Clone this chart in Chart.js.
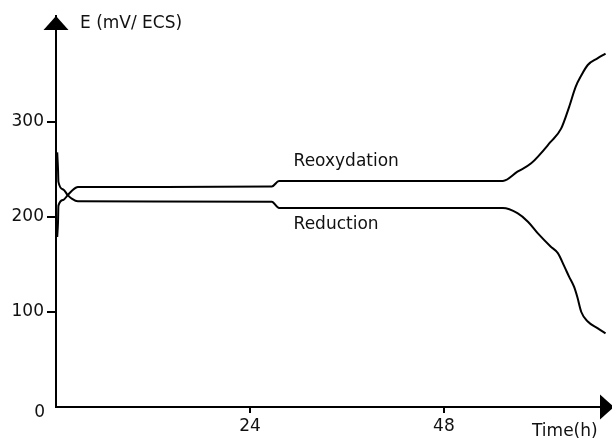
<!DOCTYPE html>
<html>
<head>
<meta charset="utf-8">
<script src="https://cdn.jsdelivr.net/npm/chart.js@4/dist/chart.umd.min.js"></script>
<style>
  html, body { margin: 0; padding: 0; background: #fff; }
  #wrap { width: 612px; height: 440px; }
</style>
</head>
<body>
<div id="wrap"><canvas id="potentialChart" width="612" height="440"></canvas></div>
<script>
// Reoxydation curve (time in h, E in mV/ECS)
const reoxTime = [0.15, 0.25, 0.3, 0.9, 1.45, 2.0, 2.7, 26.7, 27.6, 55.3, 57.1, 58.8, 61.2, 62.5, 63.5, 64.3, 65.0, 65.8, 67.0, 68.0];
const reoxE    = [179, 195, 212, 218, 223, 228, 231.5, 232, 238, 238, 247.7, 256.5, 279, 293, 316, 337, 349, 360, 367, 372];

// Reduction curve
const reducTime = [0.15, 0.25, 0.3, 0.9, 1.45, 2.0, 2.7, 26.7, 27.6, 55.3, 57.1, 58.4, 59.6, 61.2, 62.1, 62.9, 63.5, 64.1, 64.5, 65.0, 65.8, 67.0, 68.0];
const reducE    = [268, 250, 237, 229, 223, 219, 216.5, 216, 209.5, 209.5, 204, 195, 183, 169, 162, 148, 137, 126.6, 116, 100, 90, 83, 77.6];

// axes
const xTicks = [24, 48];
const yTicks = [100, 200, 300];
const originLabel = "0";
const xMax = 68.8;
const yMax = 411.6;
const yTitle = "E (mV/ ECS)";
const xTitle = "Time(h)";
const curveLabels = ["Reoxydation", "Reduction"];
const labelAt = [{ x: 29.4, y: 258 }, { x: 29.4, y: 191.6 }];

const FONT = "17px 'DejaVu Sans'";
const TEXT = "#111";

const toPoints = (xs, ys) => xs.map((x, i) => ({ x, y: ys[i] }));

// arrows, origin label, titles and curve names
const decorations = {
  id: "decorations",
  afterDraw(chart) {
    const { ctx, chartArea, scales } = chart;
    const ox = chartArea.left, oy = chartArea.bottom;
    ctx.save();
    ctx.fillStyle = "#000";
    // y arrow
    ctx.beginPath();
    ctx.moveTo(ox, chartArea.top);
    ctx.lineTo(ox - 12.5, chartArea.top + 14);
    ctx.lineTo(ox + 12.5, chartArea.top + 14);
    ctx.closePath();
    ctx.fill();
    // x arrow
    ctx.beginPath();
    ctx.moveTo(614, oy);
    ctx.lineTo(600, oy - 12.5);
    ctx.lineTo(600, oy + 12.5);
    ctx.closePath();
    ctx.fill();

    ctx.font = FONT;
    ctx.fillStyle = TEXT;
    ctx.textBaseline = "middle";
    ctx.textAlign = "right";
    ctx.fillText(originLabel, ox - 11, oy + 6);
    ctx.textAlign = "left";
    ctx.fillText(yTitle, 80, 24);
    ctx.fillText(xTitle, 532, 432);
    curveLabels.forEach((t, i) => {
      ctx.fillText(t, scales.x.getPixelForValue(labelAt[i].x), scales.y.getPixelForValue(labelAt[i].y));
    });
    ctx.restore();
  }
};

new Chart(document.getElementById("potentialChart"), {
  type: "line",
  data: {
    datasets: [
      {
        label: curveLabels[0],
        data: toPoints(reoxTime, reoxE),
        borderColor: "#000",
        borderWidth: 2,
        pointRadius: 0,
        cubicInterpolationMode: "monotone",
        fill: false
      },
      {
        label: curveLabels[1],
        data: toPoints(reducTime, reducE),
        borderColor: "#000",
        borderWidth: 2,
        pointRadius: 0,
        cubicInterpolationMode: "monotone",
        fill: false
      }
    ]
  },
  options: {
    responsive: false,
    animation: false,
    layout: { padding: { left: 0, right: 0, top: 16, bottom: 0 } },
    scales: {
      x: {
        type: "linear",
        min: 0,
        max: xMax,
        afterBuildTicks: s => { s.ticks = xTicks.map(v => ({ value: v })); },
        afterFit: s => { s.height = 33; },
        border: { display: true, color: "#000", width: 2 },
        grid: { drawOnChartArea: false, drawTicks: true, tickLength: 6, color: "#000", lineWidth: 2 },
        ticks: { color: TEXT, font: { family: "DejaVu Sans", size: 17 }, padding: 3, maxRotation: 0 }
      },
      y: {
        min: 0,
        max: yMax,
        afterBuildTicks: s => { s.ticks = yTicks.map(v => ({ value: v })); },
        afterFit: s => { s.width = 56; },
        border: { display: true, color: "#000", width: 2 },
        grid: { drawOnChartArea: false, drawTicks: true, tickLength: 9, color: "#000", lineWidth: 2 },
        ticks: { color: TEXT, font: { family: "DejaVu Sans", size: 17 }, padding: 3 }
      }
    },
    plugins: {
      legend: { display: false },
      tooltip: { enabled: false }
    }
  },
  plugins: [decorations]
});
</script>
</body>
</html>
